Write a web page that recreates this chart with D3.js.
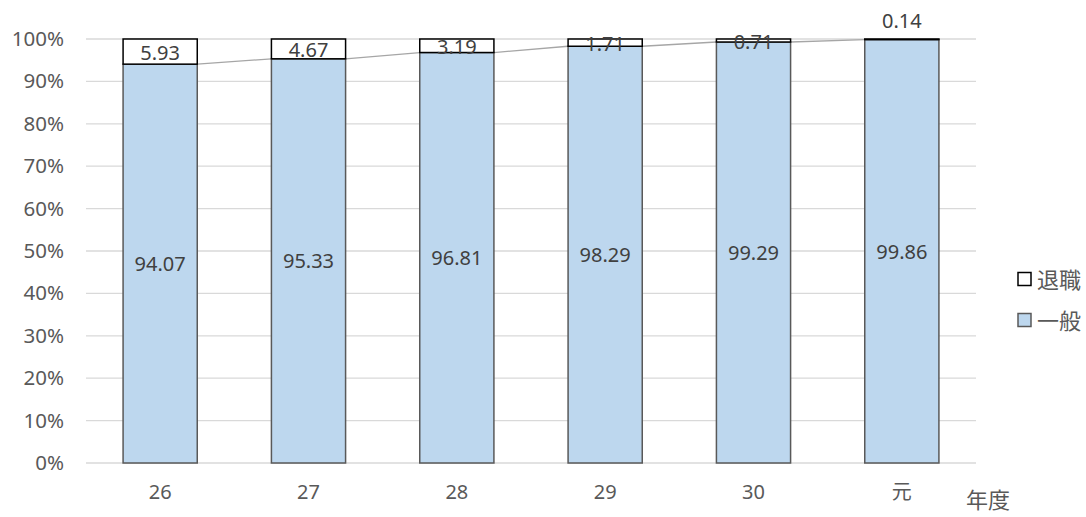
<!DOCTYPE html>
<html>
<head>
<meta charset="utf-8">
<script src="https://cdn.jsdelivr.net/npm/d3@7"></script>
<style>
  html, body { margin: 0; padding: 0; background: #fff; }
  svg text { font-family: "Noto Sans", "Noto Sans CJK JP", sans-serif; }
</style>
</head>
<body>
<svg id="chart" width="1086" height="517"></svg>
<script>
// Fiscal years (Reiwa 元 follows Heisei 30)
const years = ["26", "27", "28", "29", "30", "元"];
// Share of general (一般) and retirement (退職) portions, in percent
const general = [94.07, 95.33, 96.81, 98.29, 99.29, 99.86];
const retired = [5.93, 4.67, 3.19, 1.71, 0.71, 0.14];
const yTicks = [0, 10, 20, 30, 40, 50, 60, 70, 80, 90, 100];
const seriesNames = ["退職", "一般"];

const svg = d3.select("#chart");
const margin = { left: 86, right: 110, top: 39, bottom: 54 };
const W = 1086, H = 517;

const x = d3.scaleBand().domain(years)
  .range([margin.left, W - margin.right]).paddingInner(0.5).paddingOuter(0.25);
const y = d3.scaleLinear().domain([0, 100]).range([H - margin.bottom, margin.top]);

// gridlines
svg.append("g").selectAll("line").data(yTicks).join("line")
  .attr("x1", margin.left).attr("x2", W - margin.right)
  .attr("y1", d => y(d)).attr("y2", d => y(d))
  .attr("stroke", "#d9d9d9").attr("stroke-width", 1.3);

// y axis labels
const yAxis = d3.axisLeft(y).tickValues(yTicks).tickFormat(d => d + "%").tickSize(0).tickPadding(22);
const gy = svg.append("g").attr("transform", `translate(${margin.left},0)`).call(yAxis);
gy.select(".domain").remove();
gy.selectAll("text").attr("font-size", 20.5).attr("fill", "#595959");

// x axis labels
const xAxis = d3.axisBottom(x).tickSize(0).tickPadding(22);
const gx = svg.append("g").attr("transform", `translate(0,${H - margin.bottom})`).call(xAxis);
gx.select(".domain").remove();
gx.selectAll("text").attr("font-size", 20).attr("fill", "#595959");

// series lines joining tops of the general segments
const bw = x.bandwidth();
const links = d3.pairs(years.map((yr, i) => ({ yr, v: general[i] })));
svg.append("g").selectAll("line").data(links).join("line")
  .attr("x1", d => x(d[0].yr) + bw).attr("y1", d => y(d[0].v))
  .attr("x2", d => x(d[1].yr)).attr("y2", d => y(d[1].v))
  .attr("stroke", "#a6a6a6").attr("stroke-width", 1.3);

// general segments
svg.append("g").selectAll("rect").data(years).join("rect")
  .attr("x", d => x(d)).attr("width", bw)
  .attr("y", (d, i) => y(general[i]))
  .attr("height", (d, i) => y(0) - y(general[i]))
  .attr("fill", "#bdd7ee").attr("stroke", "#595959").attr("stroke-width", 1.5);

// retirement segments
svg.append("g").selectAll("rect").data(years).join("rect")
  .attr("x", d => x(d)).attr("width", bw)
  .attr("y", (d, i) => y(general[i] + retired[i]))
  .attr("height", (d, i) => y(general[i]) - y(general[i] + retired[i]))
  .attr("fill", "#ffffff").attr("stroke", "#000000").attr("stroke-width", 1.5);

// value labels
svg.append("g").selectAll("text").data(years).join("text")
  .attr("x", d => x(d) + bw / 2)
  .attr("y", (d, i) => y(general[i] / 2))
  .attr("text-anchor", "middle").attr("dominant-baseline", "central")
  .attr("font-size", 20).attr("fill", "#404040")
  .text((d, i) => general[i].toFixed(2));

svg.append("g").selectAll("text").data(years).join("text")
  .attr("x", d => x(d) + bw / 2)
  .attr("y", (d, i) => i === years.length - 1
      ? y(100) - 19
      : y(general[i] + retired[i] / 2) + 1)
  .attr("text-anchor", "middle").attr("dominant-baseline", "central")
  .attr("font-size", 20).attr("fill", "#404040")
  .text((d, i) => retired[i].toFixed(2));

// legend
const legend = svg.append("g").attr("transform", "translate(1018,0)");
const legendStyle = [
  { name: seriesNames[0], fill: "#ffffff", stroke: "#000000", cy: 279 },
  { name: seriesNames[1], fill: "#bdd7ee", stroke: "#595959", cy: 320 }
];
legendStyle.forEach(s => {
  legend.append("rect").attr("x", 0).attr("y", s.cy - 6.5).attr("width", 13).attr("height", 13)
    .attr("fill", s.fill).attr("stroke", s.stroke).attr("stroke-width", 1.5);
  legend.append("text").attr("x", 19).attr("y", s.cy).attr("dominant-baseline", "central")
    .attr("font-size", 22).attr("fill", "#595959").text(s.name);
});

// x axis title
svg.append("text").attr("x", 988).attr("y", 499).attr("text-anchor", "middle")
  .attr("dominant-baseline", "central")
  .attr("font-size", 22).attr("fill", "#595959").text("年度");
</script>
</body>
</html>
